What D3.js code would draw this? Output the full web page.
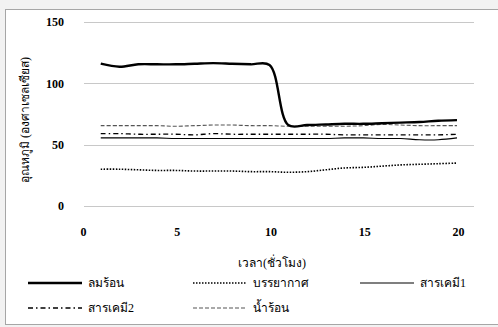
<!DOCTYPE html>
<html>
<head>
<meta charset="utf-8">
<script src="https://cdn.jsdelivr.net/npm/d3@7"></script>
<style>
  body { margin: 0; background: #f2f2f2; }
  svg { display: block; }
  text { font-family: "Liberation Serif", "Times New Roman", serif; fill: #000; }
</style>
</head>
<body>
<svg id="chart" width="498" height="327"></svg>
<script>
// time in hours
const hours = [1, 2, 3, 4, 5, 6, 7, 8, 9, 10, 11, 12, 13, 14, 15, 16, 17, 18, 19, 20];

// temperatures
const hotAir     = [116, 113.5, 115.5, 115.5, 115.5, 116, 116.5, 116, 115.5, 115, 66, 66, 66.5, 67, 67, 67.5, 68, 68.5, 69.5, 70];
const atmosphere = [30, 30, 29.5, 29, 29, 28.5, 28.5, 28.5, 28, 28, 27.5, 28, 29.5, 31, 31.5, 32.5, 33.5, 34, 34.5, 35];
const chem1      = [55.5, 55.5, 55.5, 55.5, 55, 55, 55, 55, 55, 55, 55, 55, 55, 55.5, 55.5, 55, 55, 54, 54, 55.5];
const chem2      = [59, 59, 58.5, 58.5, 58.5, 58, 59, 58.5, 58.5, 58.5, 58.5, 58.5, 58.5, 58, 58, 58, 58, 58, 58, 58.5];
const hotWater   = [65.5, 65.5, 65.5, 65.5, 65, 65.5, 66, 66, 65.5, 65.5, 65, 65, 65, 65, 65.5, 66.5, 66, 65.5, 65.5, 65.5];

const xTicks = [0, 5, 10, 15, 20];
const yTicks = [0, 50, 100, 150];

const series = [
  { name: "ลมร้อน",   values: hotAir,     color: "#000", width: 2.4, dash: null },
  { name: "บรรยากาศ", values: atmosphere, color: "#000", width: 1.6, dash: "1.5,1.5" },
  { name: "สารเคมี1",  values: chem1,      color: "#000", width: 1.1, dash: null },
  { name: "สารเคมี2",  values: chem2,      color: "#000", width: 1.3, dash: "5,3,1.5,3" },
  { name: "น้ำร้อน",   values: hotWater,   color: "#555", width: 1.1, dash: "4,2" }
];

const svg = d3.select("#chart");

// chart area box
svg.append("rect")
  .attr("x", 5.5).attr("y", 9.5)
  .attr("width", 498).attr("height", 315)
  .attr("fill", "#fff")
  .attr("stroke", "#a6a6a6");

const x = d3.scaleLinear().domain([0, 21]).range([82, 475.75]);
const y = d3.scaleLinear().domain([0, 150]).range([206, 22]);

// gridlines
svg.append("g")
  .selectAll("line")
  .data(yTicks)
  .enter().append("line")
  .attr("x1", 84).attr("x2", 474)
  .attr("y1", d => Math.round(y(d)) + 0.5)
  .attr("y2", d => Math.round(y(d)) + 0.5)
  .attr("stroke", "#c8c8c8")
  .attr("stroke-width", 1);

// y axis labels
const yAxis = d3.axisLeft(y).tickValues(yTicks).tickSize(0).tickPadding(0);
svg.append("g")
  .attr("transform", "translate(64,0)")
  .call(yAxis)
  .call(g => g.select(".domain").remove())
  .selectAll("text")
  .attr("font-family", "Liberation Serif, serif")
  .attr("font-size", 12)
  .attr("font-weight", "bold");

// x axis labels
const xAxis = d3.axisBottom(x).tickValues(xTicks).tickSize(0).tickPadding(0);
svg.append("g")
  .attr("transform", "translate(1,227)")
  .call(xAxis)
  .call(g => g.select(".domain").remove())
  .selectAll("text")
  .attr("font-family", "Liberation Serif, serif")
  .attr("font-size", 12)
  .attr("font-weight", "bold");

// axis titles
svg.append("text")
  .attr("x", 272).attr("y", 267)
  .attr("text-anchor", "middle")
  .attr("font-size", 12)
  .text("เวลา(ชั่วโมง)");

svg.append("text")
  .attr("transform", "translate(29,120) rotate(-90)")
  .attr("text-anchor", "middle")
  .attr("font-size", 12)
  .text("อุณหภูมิ (องศาเซลเซียส)");

// lines
const line = d3.line()
  .x((d, i) => x(hours[i]))
  .y(d => y(d))
  .curve(d3.curveCatmullRom.alpha(0.5));

svg.append("g")
  .selectAll("path")
  .data(series.slice().reverse())
  .enter().append("path")
  .attr("d", d => line(d.values))
  .attr("fill", "none")
  .attr("stroke", d => d.color)
  .attr("stroke-width", d => d.width)
  .attr("stroke-dasharray", d => d.dash);

// legend
const legendPos = [
  { x: 28, y: 283 }, { x: 193, y: 283 }, { x: 360, y: 283 },
  { x: 28, y: 308 }, { x: 193, y: 308 }
];

const legend = svg.append("g")
  .selectAll("g")
  .data(series)
  .enter().append("g")
  .attr("transform", (d, i) => `translate(${legendPos[i].x},${legendPos[i].y})`);

legend.append("line")
  .attr("x1", 0).attr("x2", 54)
  .attr("y1", 0).attr("y2", 0)
  .attr("stroke", d => d.color)
  .attr("stroke-width", d => d.width)
  .attr("stroke-dasharray", d => d.dash);

legend.append("text")
  .attr("x", 60).attr("y", 4)
  .attr("font-size", 12)
  .text(d => d.name);
</script>
</body>
</html>
